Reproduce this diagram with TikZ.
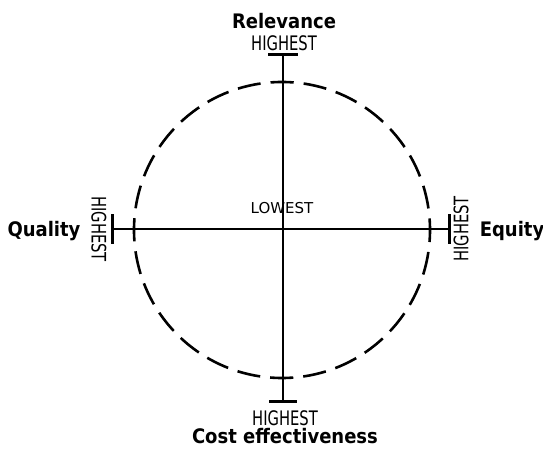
\documentclass[tikz,border=0pt]{standalone}
\usepackage{fontspec}
\setmainfont{DejaVu Sans Condensed}
\newfontfamily\axisfont[FakeStretch=0.82]{DejaVu Sans Condensed}
\newfontfamily\lowfont{DejaVu Sans}
\tikzset{
  dimlabel/.style={font=\bfseries\fontsize{20}{20}\selectfont, inner sep=0pt},
  endlabel/.style={font=\axisfont\fontsize{20}{20}\selectfont, inner sep=0pt},
  axis/.style={line width=2.4pt},
  endbar/.style={line width=3pt},
}
\begin{document}
\begin{tikzpicture}[x=1pt, y=1pt]
\useasboundingbox (-283,-220) rectangle (260,229);
% circle of the four dimensions
\draw[line width=2.6pt, dash pattern=on 23.2pt off 10pt, dash phase=11.6pt] (-1,-1) circle (148pt);
\coordinate (relevance) at (0,174);
\coordinate (cost) at (0,-173);
\coordinate (quality) at (-170,0);
\coordinate (equity) at (166,0);
\path [axis, draw=black] (cost) edge (relevance);
\path [axis, draw=black] (quality) edge (equity);
% end bars
\draw[endbar] ([xshift=-15pt]relevance) -- ([xshift=15pt]relevance);
\draw[endbar] ([xshift=-14pt]cost) -- ([xshift=14pt]cost);
\draw[endbar] ([yshift=-15pt]quality) -- ([yshift=15pt]quality);
\draw[endbar] ([yshift=-15pt]equity) -- ([yshift=15pt]equity);
\node[dimlabel] (R) at (1,208) {Relevance};
\node[endlabel] (Rh) at (1,186) {HIGHEST};
\node[dimlabel] (C) at (2,-207) {Cost effectiveness};
\node[endlabel] (Ch) at (2,-189) {HIGHEST};
\node[dimlabel] (Q) at (-239,-2) {Quality};
\node[endlabel, rotate=-90] (Qh) at (-184,0) {HIGHEST};
\node[dimlabel] (E) at (229,-2) {Equity};
\node[endlabel, rotate=90] (Eh) at (178,0) {HIGHEST};
\node[font=\lowfont\fontsize{15}{15}\selectfont, inner sep=0pt] (L) at (-1,21) {LOWEST};
\end{tikzpicture}
\end{document}
